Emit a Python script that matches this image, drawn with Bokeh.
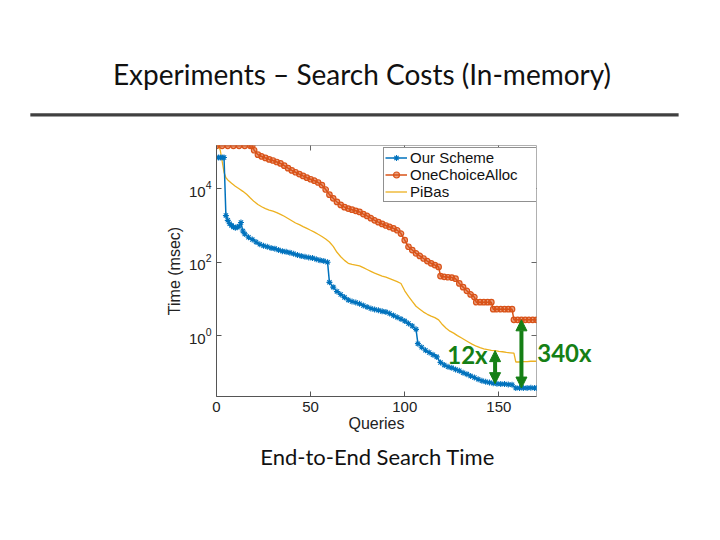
import numpy as np
from bokeh.plotting import figure
from bokeh.models import (Range1d, FixedTicker, LinearAxis, LogAxis, Legend, LegendItem,
                          Label, Arrow, NormalHead)
from bokeh.embed import file_html
from bokeh.resources import INLINE

# ---------------- data (msec) ----------------
ours_x = [0, 1, 2, 3, 4, 5, 6, 7, 8, 9, 10, 11, 12, 13, 14, 15, 17, 19, 21, 23, 25, 27, 29, 31, 33,
          35, 37, 39, 41, 43, 45, 47, 49, 51, 53, 55, 57, 59, 60, 62, 64, 66, 68, 70, 72, 74, 76, 78,
          80, 82, 84, 86, 88, 90, 92, 94, 96, 98, 100, 102, 104, 106, 107, 109, 111, 113, 115, 117,
          119, 121, 123, 125, 127, 129, 131, 133, 135, 137, 139, 141, 143, 145, 147, 149, 151, 153,
          155, 157, 159, 161, 163, 165, 167, 169, 170]
ours_y = [71000, 71000, 71000, 71000, 71000, 1860, 1380, 1120, 1000, 912, 871, 891, 955, 1200, 708,
          589, 479, 417, 355, 309, 282, 263, 245, 234, 214, 200, 191, 182, 170, 158, 148, 141, 135,
          129, 120, 112, 107, 100, 28.2, 20.9, 15.8, 13.2, 11.0, 9.33, 8.51, 7.94, 7.41, 6.61, 6.03,
          5.50, 5.13, 4.90, 4.57, 4.37, 3.98, 3.55, 3.16, 2.82, 2.51, 2.14, 1.82, 1.48, 0.603, 0.479,
          0.398, 0.347, 0.302, 0.263, 0.186, 0.158, 0.141, 0.132, 0.120, 0.110, 0.0977, 0.0891,
          0.0794, 0.0724, 0.0646, 0.0589, 0.0550, 0.0525, 0.0501, 0.0490, 0.0479, 0.0479, 0.0468,
          0.0457, 0.0372, 0.0372, 0.0372, 0.0372, 0.0380, 0.0372, 0.0372]

onechoice_x = [0, 3, 6, 9, 12, 15, 18, 19, 20, 22, 24, 26, 28, 30, 32, 34, 36, 38, 40, 42, 44, 46, 48,
               50, 52, 54, 56, 58, 60, 62, 64, 66, 68, 70, 72, 74, 76, 78, 80, 82, 84, 86, 88, 90, 92,
               94, 96, 98, 100, 102, 104, 106, 108, 110, 112, 114, 116, 118, 119, 121, 123, 125, 127,
               129, 131, 133, 135, 137, 138, 140, 142, 144, 146, 147, 149, 151, 153, 155, 157, 158,
               160, 162, 164, 166, 168, 170]
onechoice_y = [148000, 148000, 148000, 148000, 148000, 148000, 148000, 148000, 112000, 85100, 75900,
               69200, 63100, 58900, 53700, 49000, 42700, 36300, 31600, 28200, 25100, 22400, 20000,
               18200, 16600, 14800, 12600, 9550, 6920, 5500, 4370, 3630, 3160, 2880, 2690, 2510, 2340,
               2040, 1820, 1580, 1380, 1230, 1100, 1000, 912, 832, 741, 603, 398, 263, 214, 174, 148,
               126, 107, 93.3, 83.2, 74.1, 41.7, 39.8, 38.9, 38.0, 35.5, 26.3, 20.9, 16.6, 13.2, 11.2,
               8.13, 8.13, 8.13, 8.13, 8.13, 5.25, 5.25, 5.25, 5.25, 5.25, 5.25, 2.69, 2.69, 2.69,
               2.69, 2.69, 2.69, 2.69]

pibas_x = [0, 1, 2, 3, 4, 5, 6, 8, 10, 12, 14, 16, 18, 20, 22, 24, 26, 28, 30, 32, 34, 36, 38, 40, 42,
           44, 46, 48, 50, 52, 54, 56, 58, 60, 62, 64, 66, 68, 70, 72, 74, 76, 78, 80, 82, 84, 86, 88,
           90, 92, 94, 96, 98, 100, 102, 104, 106, 108, 110, 112, 114, 116, 118, 120, 122, 124, 126,
           128, 130, 132, 134, 136, 138, 140, 142, 144, 146, 148, 150, 152, 154, 156, 158, 159, 161,
           163, 165, 167, 170]
pibas_y = [148000, 148000, 112000, 56200, 28200, 20000, 17400, 14100, 11700, 10000, 8510, 7080, 5620,
           4470, 3720, 3240, 2880, 2630, 2450, 2240, 2000, 1780, 1550, 1350, 1170, 1050, 933, 832, 741,
           661, 575, 501, 427, 355, 269, 186, 141, 112, 93.3, 87.1, 83.2, 79.4, 70.8, 63.1, 56.2, 50.1,
           45.7, 41.7, 38.9, 35.5, 32.4, 29.5, 26.3, 16.6, 11.7, 8.51, 6.31, 5.25, 4.37, 3.80, 3.39,
           3.09, 2.69, 2.0, 1.58, 1.32, 1.17, 1.0, 0.871, 0.759, 0.661, 0.575, 0.513, 0.468, 0.437,
           0.417, 0.398, 0.389, 0.372, 0.363, 0.347, 0.339, 0.331, 0.191, 0.191, 0.195, 0.195, 0.200,
           0.200]

series_names = ["Our Scheme", "OneChoiceAlloc", "PiBas"]
x_ticks = [0, 50, 100, 150]
y_ticks = [1, 100, 10000]

# speed-up annotations: query index, lower value, upper value, label
gap_x = [148, 162]
gap_low = [0.049, 0.0372]
gap_high = [0.389, 2.69]
gap_labels = ["12x", "340x"]

slide_title = "Experiments \u2013 Search Costs (In-memory)"
slide_caption = "End-to-End Search Time"

# annotation anchor positions (in the chart's data coordinates)
title_pos = (77.3, 1.30e7)
rule_pos = (73.3, 1.03e6)
caption_pos = (85.6, 5.0e-4)
gap_label_pos = [(122.6, 0.296), (170.4, 0.35)]

# ---------------- styles ----------------
BLUE, RED, YELLOW = "#0072BD", "#D95319", "#EDB120"
GREEN = "#157F15"
AXF = "Liberation Sans"
SLF = "Lato"

p = figure(width=704, height=524, output_backend="svg", toolbar_location=None,
           x_range=Range1d(0, 170), y_range=Range1d(0.0219, 151000), y_axis_type="log",
           min_border_left=216, min_border_right=168, min_border_top=145, min_border_bottom=128,
           x_axis_label="Queries", y_axis_label="Time (msec)")
p.background_fill_color = "white"
p.border_fill_color = "white"
p.outline_line_color = "#b0b0b0"
p.outline_line_width = 1
p.grid.visible = False

p.xaxis.ticker = FixedTicker(ticks=x_ticks)
p.yaxis.ticker = FixedTicker(ticks=y_ticks)
for ax in (p.xaxis[0], p.yaxis[0]):
    ax.axis_line_color = "#555555"
    ax.major_tick_line_color = "#555555"
    ax.major_tick_in = 5
    ax.major_tick_out = 0
    ax.minor_tick_line_color = None
    ax.major_label_text_font = AXF
    ax.major_label_text_font_size = "15px"
    ax.major_label_text_color = "#222222"
    ax.axis_label_text_font = AXF
    ax.axis_label_text_font_size = "16px"
    ax.axis_label_text_font_style = "normal"
    ax.axis_label_text_color = "#222222"
    ax.major_label_standoff = 5
p.xaxis.axis_label_standoff = 0
p.yaxis.axis_label_standoff = 3

top_ax = LinearAxis(ticker=FixedTicker(ticks=x_ticks),
                    major_label_overrides={t: "" for t in x_ticks})
right_ax = LogAxis(ticker=FixedTicker(ticks=y_ticks),
                   major_label_overrides={t: "" for t in y_ticks})
for ax in (top_ax, right_ax):
    ax.axis_line_color = None
    ax.major_tick_line_color = "#666666"
    ax.major_tick_in = 5
    ax.major_tick_out = 0
    ax.minor_tick_line_color = None
    ax.major_label_text_font_size = "1px"
p.add_layout(top_ax, "above")
p.add_layout(right_ax, "right")

# ---------------- series ----------------
r_pl = p.line(pibas_x, pibas_y, line_color=YELLOW, line_width=1.3)
r_ol = p.line(onechoice_x, onechoice_y, line_color=RED, line_width=1.5)
r_om = p.scatter(onechoice_x, onechoice_y, marker="circle", size=5.5, line_color=RED,
                 fill_color=RED, fill_alpha=0.55, line_width=1.2)
r_bl = p.line(ours_x, ours_y, line_color=BLUE, line_width=1.5)
r_bm = p.scatter(ours_x, ours_y, marker="asterisk", size=6, line_color=BLUE, line_width=1.1)

legend = Legend(items=[LegendItem(label=series_names[0], renderers=[r_bl, r_bm]),
                       LegendItem(label=series_names[1], renderers=[r_ol, r_om]),
                       LegendItem(label=series_names[2], renderers=[r_pl])],
                location=(167, 194), orientation="vertical")
legend.label_text_font = AXF
legend.label_text_font_size = "15px"
legend.label_text_color = "#111111"
legend.label_height = 15
legend.glyph_height = 15
legend.glyph_width = 22
legend.label_standoff = 3
legend.label_width = 126
legend.padding = 1
legend.spacing = 0
legend.margin = 0
legend.border_line_color = "#222222"
legend.border_line_width = 1
legend.background_fill_color = "white"
legend.background_fill_alpha = 1
p.add_layout(legend)

# ---------------- speed-up arrows ----------------
for gx, lo, hi in zip(gap_x, gap_low, gap_high):
    p.add_layout(Arrow(start=NormalHead(size=11, fill_color=GREEN, line_color=GREEN),
                       end=NormalHead(size=11, fill_color=GREEN, line_color=GREEN),
                       x_start=gx, y_start=lo, x_end=gx, y_end=hi,
                       line_color=GREEN, line_width=4))

p.add_layout(Label(x=gap_label_pos[0][0], y=gap_label_pos[0][1], text=gap_labels[0],
                   text_font=SLF, text_font_size="24px", text_font_style="bold",
                   text_color=GREEN, text_baseline="alphabetic"))
p.add_layout(Label(x=gap_label_pos[1][0], y=gap_label_pos[1][1], text=gap_labels[1],
                   text_font=SLF, text_font_size="24px", text_font_style="bold",
                   text_color=GREEN, text_baseline="alphabetic"), "right")

# ---------------- slide texts (side panels, so they are not clipped) ----------------
p.add_layout(Label(x=title_pos[0], y=title_pos[1], text=slide_title,
                   text_font=SLF, text_font_size="28px", text_color="#111111",
                   text_align="center", text_baseline="alphabetic"), "above")
p.add_layout(Label(x=rule_pos[0], y=rule_pos[1], text=" ", text_font_size="1px",
                   text_align="center", text_baseline="middle",
                   background_fill_color="#404040", background_fill_alpha=1,
                   padding=dict(left=324, right=324, top=1, bottom=1)), "above")
p.add_layout(Label(x=caption_pos[0], y=caption_pos[1], text=slide_caption,
                   text_font=SLF, text_font_size="22px", text_color="#111111",
                   text_align="center", text_baseline="alphabetic"), "below")

open("out.html", "w").write(file_html(p, INLINE))
